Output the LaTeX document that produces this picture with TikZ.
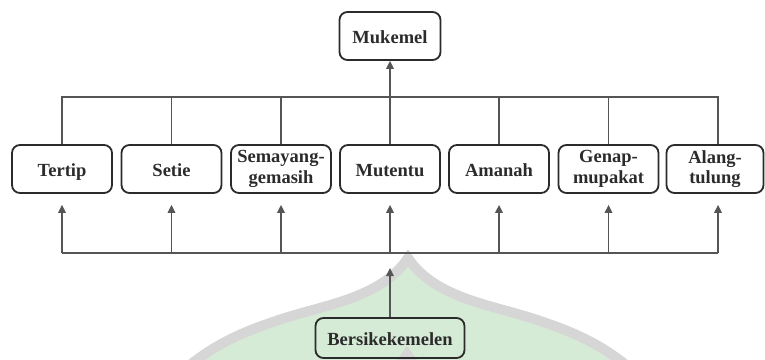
\documentclass[tikz,border=0pt]{standalone}
\usepackage{fontspec}
\setmainfont{Liberation Serif}
\usetikzlibrary{arrows.meta,calc}
\definecolor{ink}{HTML}{2B2B2B}
\definecolor{wirec}{HTML}{555555}
\definecolor{wmgreen}{HTML}{D6EBD6}
\definecolor{wmgrey}{HTML}{D6D6D6}
\begin{document}
\begin{tikzpicture}[x=1pt,y=-1pt,
  box/.style={draw=ink, line width=1.8pt, rounded corners=8pt, minimum width=100pt,
    minimum height=48pt, inner sep=1pt, align=center,
    font=\fontsize{18.5}{20.5}\selectfont\bfseries, text=ink},
  oneline/.style={text height=14pt, text depth=0pt},
  wire/.style={draw=wirec, line width=1.5pt},
  arr/.style={wire, -{Triangle[length=8pt,width=7.5pt]}}]
\useasboundingbox (0,0) rectangle (765,359);
% faint watermark in the background
\begin{scope}
\clip (0,0) rectangle (765,359);
\path[fill=wmgreen] (190,365) .. controls (215,345) and (240,333) .. (273,322)
  .. controls (320,305) and (380,300) .. (408,258)
  .. controls (436,300) and (496,305) .. (543,322)
  .. controls (576,333) and (601,345) .. (626,365) -- cycle;
\draw[wmgrey, line width=10pt, line cap=round] (190,365) .. controls (215,345) and (240,333) .. (273,322)
  .. controls (320,305) and (380,300) .. (408,258)
  .. controls (436,300) and (496,305) .. (543,322)
  .. controls (576,333) and (601,345) .. (626,365);
\fill[wmgrey] (407,346) -- (393,365) -- (421,365) -- cycle;
\end{scope}
% nodes
\node[box, oneline, minimum width=101pt] (muk) at (390,36) {Mukemel};
\node[box, oneline] (tertip) at (62,169) {Tertip};
\node[box, oneline] (setie) at (171.5,169) {Setie};
\node[box] (sema) at (281,169) {Semayang-\\gemasih};
\node[box, oneline] (mut) at (390,169) {Mutentu};
\node[box, oneline] (amanah) at (499,169) {Amanah};
\node[box] (genap) at (608.5,169) {Genap-\\mupakat};
\node[box, minimum width=97pt] (alang) at (715,169) {Alang-\\tulung};
\node[box, oneline, minimum width=149pt, minimum height=40pt] (bersi) at (390,338) {Bersikekemelen};
\coordinate (top) at (0,97);
\coordinate (bot) at (0,253);
% upper connectors
\draw[wire] (tertip.north) -- (tertip.north |- top) -- ([xshift=3pt]alang.north |- top) -- ([xshift=3pt]alang.north);
\foreach \n in {setie,sema,amanah,genap}
  \draw[wire] (\n.north) -- (\n.north |- top);
\draw[arr] (mut.north) -- (muk.south);
% lower connectors
\draw[wire] (tertip.south |- bot) -- ([xshift=3pt]alang.south |- bot);
\foreach \n in {tertip,setie,sema,mut,amanah,genap}
  \draw[arr, shorten >=11pt] (\n.south |- bot) -- (\n.south);
\draw[arr, shorten >=11pt] ([xshift=3pt]alang.south |- bot) -- ([xshift=3pt]alang.south);
\draw[arr, shorten >=15pt] (bersi.north) -- (bersi.north |- bot);
\end{tikzpicture}
\end{document}
